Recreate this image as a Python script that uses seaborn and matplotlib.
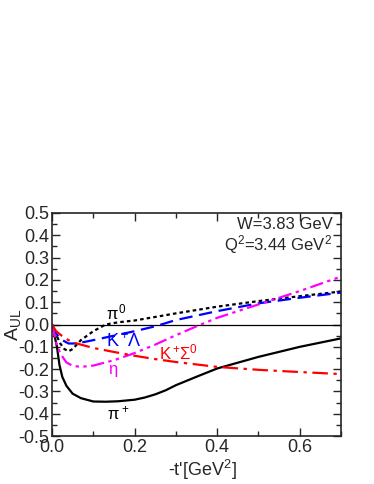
"""Asymmetry A_UL vs -t' for several channels."""

import matplotlib
matplotlib.use("Agg")

import matplotlib.pyplot as plt
import matplotlib.ticker as mticker
import pandas as pd
import seaborn as sns

sns.set_style("ticks")
plt.rcParams["font.family"] = ["Liberation Sans", "DejaVu Sans"]
plt.rcParams["mathtext.fontset"] = "custom"
plt.rcParams["mathtext.rm"] = "Liberation Sans"
plt.rcParams["mathtext.it"] = "Liberation Sans"

# π+ (solid black)
t_pip = [0.0, 0.005, 0.012, 0.018, 0.025, 0.035, 0.05, 0.07, 0.1, 0.13, 0.16,
         0.2, 0.225, 0.25, 0.275, 0.3, 0.35, 0.4, 0.5, 0.6, 0.7]
a_pip = [0.0, -0.04, -0.10, -0.18, -0.235, -0.275, -0.31, -0.33, -0.345, -0.346,
         -0.344, -0.337, -0.327, -0.313, -0.295, -0.272, -0.234, -0.197,
         -0.145, -0.10, -0.062]

# π0 (dotted black)
t_pi0 = [0.0, 0.01, 0.02, 0.03, 0.04, 0.05, 0.07, 0.1, 0.13, 0.16, 0.2, 0.3,
         0.4, 0.5, 0.6, 0.7]
a_pi0 = [0.0, -0.045, -0.085, -0.11, -0.12, -0.11, -0.07, -0.03, 0.0, 0.01,
         0.018, 0.05, 0.08, 0.105, 0.127, 0.148]

# K+Λ (dashed blue)
t_kl = [0.0, 0.01, 0.02, 0.04, 0.06, 0.1, 0.15, 0.2, 0.25, 0.3, 0.35, 0.4,
        0.5, 0.6, 0.7]
a_kl = [0.0, -0.04, -0.065, -0.085, -0.085, -0.07, -0.05, -0.03, -0.008, 0.02,
        0.04, 0.06, 0.095, 0.12, 0.143]

# η (dash-dot-dot magenta)
t_eta = [0.0, 0.01, 0.02, 0.035, 0.05, 0.07, 0.1, 0.15, 0.2, 0.25, 0.3, 0.35,
         0.4, 0.5, 0.6, 0.7]
a_eta = [0.0, -0.08, -0.13, -0.17, -0.185, -0.19, -0.184, -0.16, -0.128,
         -0.09, -0.048, -0.008, 0.03, 0.09, 0.15, 0.215]

# K+Σ0 (dash-dot red)
t_ks = [0.0, 0.01, 0.02, 0.03, 0.05, 0.1, 0.15, 0.2, 0.25, 0.3, 0.4, 0.5,
        0.6, 0.7]
a_ks = [0.0, -0.03, -0.045, -0.06, -0.08, -0.105, -0.123, -0.14, -0.155,
        -0.168, -0.19, -0.203, -0.213, -0.222]

curves = [
    ("pi+", t_pip, a_pip, "black", "-"),
    ("pi0", t_pi0, a_pi0, "black", (0, (1.6, 1.4))),
    ("KL", t_kl, a_kl, "#0000ff", (0, (6, 3))),
    ("eta", t_eta, a_eta, "#ff00ff", (0, (6, 2, 1.5, 2, 1.5, 2))),
    ("KS", t_ks, a_ks, "#ff0000", (0, (7, 2.5, 1.5, 2.5))),
]

fig = plt.figure(figsize=(3.74, 4.84), dpi=100)
ax = fig.add_axes([0.139, 0.099, 0.773, 0.461])

ax.axhline(0.0, color="black", lw=0.9)
for name, t, a, color, ls in curves:
    df = pd.DataFrame({"t": t, "a": a})
    sns.lineplot(data=df, x="t", y="a", color=color, lw=1.6, ax=ax,
                 sort=False, estimator=None)
    ax.lines[-1].set_linestyle(ls)

ax.set_xlim(0.0, 0.7)
ax.set_ylim(-0.5, 0.5)
ax.xaxis.set_major_locator(mticker.MultipleLocator(0.2))
ax.xaxis.set_minor_locator(mticker.MultipleLocator(0.1))
ax.yaxis.set_major_locator(mticker.MultipleLocator(0.1))
ax.yaxis.set_minor_locator(mticker.MultipleLocator(0.05))
ax.xaxis.set_major_formatter(mticker.FormatStrFormatter("%.1f"))
ax.yaxis.set_major_formatter(mticker.FormatStrFormatter("%.1f"))
ax.tick_params(which="both", direction="in", top=True, right=True,
               labelsize=13, width=1.0)
ax.tick_params(which="major", length=6, pad=2)
ax.tick_params(which="minor", length=3.5)
for s in ax.spines.values():
    s.set_linewidth(1.2)

ax.set_xlabel("-t'[GeV$^2$]", fontsize=13)
ax.xaxis.set_label_coords(0.52, -0.10)
ax.set_ylabel("A$_{\\rm UL}$", fontsize=14)
ax.yaxis.set_label_coords(-0.10, 0.5)

ax.text(0.97, 0.95, "W=3.83 GeV", transform=ax.transAxes, ha="right",
        va="center", fontsize=12)
ax.text(0.97, 0.86, "Q$^2$=3.44 GeV$^2$", transform=ax.transAxes, ha="right",
        va="center", fontsize=12)

ax.text(0.155, 0.052, "$\\pi^0$", color="black", ha="center", va="center", fontsize=12)
ax.text(0.175, -0.075, "K$^+\\!\\Lambda$", color="#0000ff", ha="center", va="center", fontsize=13)
ax.text(0.147, -0.21, "$\\eta$", color="#ff00ff", ha="center", va="center", fontsize=12)
ax.text(0.307, -0.125, "K$^+\\!\\Sigma^0$", color="#ff0000", ha="center", va="center", fontsize=12)
ax.text(0.16, -0.40, "$\\pi^+$", color="black", ha="center", va="center", fontsize=12)

fig.savefig("out.png", dpi=100)
